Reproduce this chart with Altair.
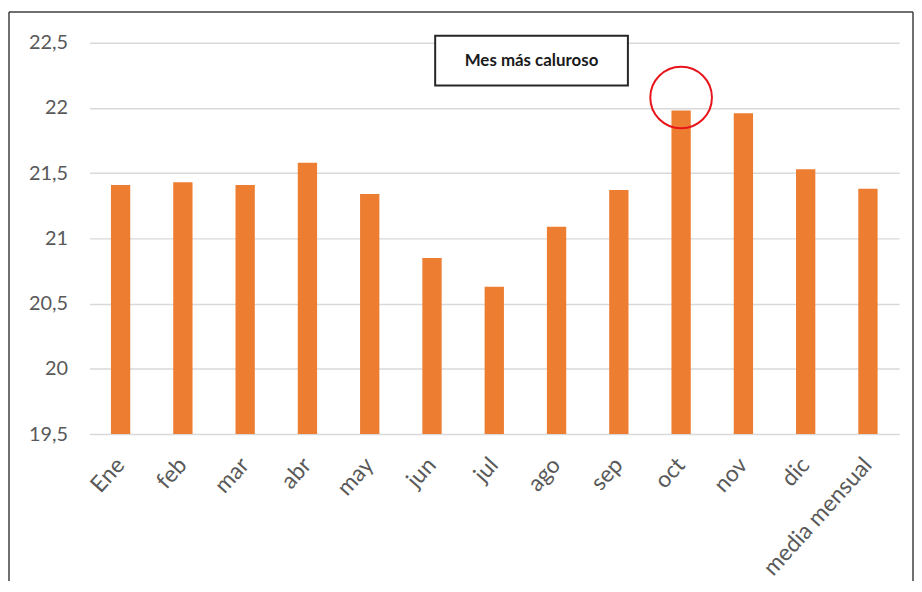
import altair as alt
import pandas as pd

months = ["Ene", "feb", "mar", "abr", "may", "jun", "jul", "ago", "sep", "oct",
          "nov", "dic", "media mensual"]
temps = [21.41, 21.43, 21.41, 21.58, 21.34, 20.85, 20.63, 21.09, 21.37, 21.98,
         21.96, 21.53, 21.38]
y_ticks = [19.5, 20, 20.5, 21, 21.5, 22, 22.5]

note_text = ["Mes más caluroso"]
hot_month = ["oct"]
hot_circle_y = [22.08]

df = pd.DataFrame({"mes": months, "temp": temps})

FONT = "Lato"
W, H = 815, 394

x_enc = alt.X("mes:N", sort=months, title=None,
              scale=alt.Scale(paddingInner=0.69, paddingOuter=0.345),
              axis=alt.Axis(labelAngle=-48, labelAlign="right", labelBaseline="middle",
                            labelPadding=27, ticks=False, domain=False,
                            labelFont=FONT, labelFontSize=23, labelColor="#595959"))
y_scale = alt.Scale(domain=[19.5, 22.5], zero=False, nice=False)

bars = alt.Chart(df).mark_bar(color="#ED7D31").encode(
    x=x_enc,
    y=alt.Y("temp:Q", scale=y_scale, title=None,
            axis=alt.Axis(values=y_ticks, ticks=False, domain=False, labelPadding=22,
                          labelExpr="replace(toString(datum.value), '.', ',')",
                          labelFont=FONT, labelFontSize=20, labelColor="#595959",
                          gridColor="#d9d9d9", gridWidth=1.5)),
    y2=alt.datum(19.5),
)

circle = alt.Chart(pd.DataFrame({"mes": hot_month, "y": hot_circle_y})).mark_point(
    shape="circle", size=3850, filled=False, color="#e8141b", strokeWidth=2, opacity=1
).encode(
    x=alt.X("mes:N", sort=months),
    y=alt.Y("y:Q", scale=y_scale),
)

box = alt.Chart(pd.DataFrame({"t": note_text})).mark_rect(
    fill="white", stroke="#262626", strokeWidth=2
).encode(x=alt.value(348), x2=alt.value(542), y=alt.value(-7), y2=alt.value(43))

label = alt.Chart(pd.DataFrame({"t": note_text})).mark_text(
    font=FONT, fontSize=17, fontWeight="bold", color="#1a1a1a", align="center",
    baseline="middle"
).encode(text="t:N", x=alt.value(445), y=alt.value(18))

frame_data = alt.Data(values=[{"a": 1}])
left_line = alt.Chart(frame_data).mark_rule(color="#404040", strokeWidth=1.5).encode(
    x=alt.value(-81), y=alt.value(-31), y2=alt.value(542))
right_line = alt.Chart(frame_data).mark_rule(color="#404040", strokeWidth=1.5).encode(
    x=alt.value(829), y=alt.value(-31), y2=alt.value(542))
top_line = alt.Chart(frame_data).mark_rule(color="#404040", strokeWidth=1.5).encode(
    x=alt.value(-81), x2=alt.value(829), y=alt.value(-31))

chart = alt.layer(bars, circle, box, label, left_line, right_line, top_line).properties(
    width=W, height=H, padding={"left": 0, "top": 1, "right": 0, "bottom": 0},
    background="white",
).configure_view(stroke=None)

chart.save("out.html", embed_options={"renderer": "svg", "actions": False})
